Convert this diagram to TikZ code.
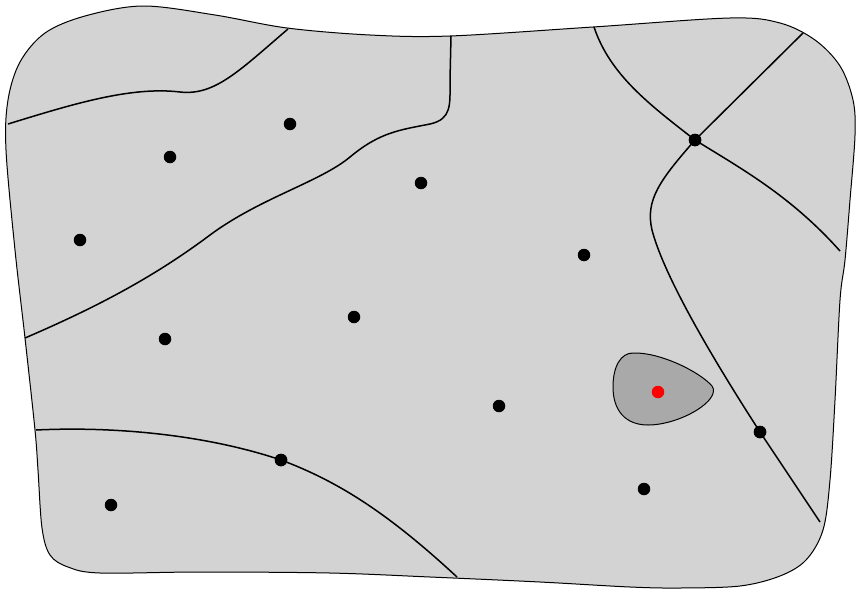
\documentclass[tikz,border=0pt]{standalone}
\definecolor{regiongray}{RGB}{211,211,211}
\definecolor{cellgray}{RGB}{169,169,169}
\begin{document}
\begin{tikzpicture}[x=1pt,y=-1pt,
  region/.style={fill=regiongray,draw=black,line width=1pt},
  cell/.style={fill=cellgray,draw=black,line width=1pt},
  border/.style={draw=black,line width=1.5pt},
  site/.style={circle,fill=black,inner sep=0pt,minimum size=12.5pt},
  hot/.style={circle,fill=red,inner sep=0pt,minimum size=12.5pt}]
\useasboundingbox (0,0) rectangle (858,589);
% outer domain
\path[region] plot[smooth cycle,tension=0.55] coordinates {
  (143,6) (215,15) (287,28) (370,35) (450,36) (593,27) (730,18) (780,23)
  (815,40) (840,66) (853,100) (855,135) (850,200) (845,260) (840,300)
  (835,400) (830,480) (823,530) (806,560) (780,576) (740,586) (680,588)
  (630,587) (540,582) (430,577) (330,573) (200,572) (100,573) (68,567)
  (50,555) (42,528) (38,470) (35,430) (25,338) (15,250) (6,150) (8,100)
  (20,62) (45,33) (85,16)};
% small shaded cell
\path[cell] (633,353) .. controls (660,352) and (700,372) .. (712,386)
  .. controls (722,400) and (680,425) .. (648,425)
  .. controls (625,425) and (613,410) .. (613,387)
  .. controls (613,366) and (621,353) .. (633,353) -- cycle;
% junctions and sites
\node[site] (j1) at (695,140) {};
\node[site] (j2) at (760,432) {};
\node[site] (j3) at (281,460) {};
\coordinate (a1) at (8,124);   \coordinate (a2) at (288,29);
\coordinate (b1) at (25,338);  \coordinate (b2) at (451,36);
\coordinate (c1) at (594,27);  \coordinate (c2) at (803,33);
\coordinate (c3) at (840,251); \coordinate (c4) at (820,522);
\coordinate (d1) at (36,430);  \coordinate (d2) at (457,577);
% boundaries between regions
\draw[border] (a1) .. controls (70,105) and (130,86) .. (180,92)
  .. controls (215,96) and (240,70) .. (a2);
\draw[border] (b1) .. controls (90,310) and (150,280) .. (210,235)
  .. controls (260,198) and (320,182) .. (350,157)
  .. controls (380,132) and (400,130) .. (430,124)
  .. controls (452,119) and (450,105) .. (450,80) -- (b2);
\draw[border] (c1) .. controls (610,75) and (650,105) .. (j1.center);
\draw[border] (j1.center) -- (c2);
\draw[border] (j1.center) .. controls (740,168) and (790,195) .. (c3);
\draw[border] (j1.center) .. controls (660,180) and (645,200) .. (652,230)
  .. controls (665,280) and (720,370) .. (j2.center) -- (c4);
\draw[border] (d1) .. controls (120,426) and (210,436) .. (j3.center)
  .. controls (340,482) and (390,515) .. (d2);
\node[site] at (j1) {};
\node[site] at (j2) {};
\node[site] at (j3) {};
\node[site] (s1) at (290,124) {};
\node[site] (s2) at (170,157) {};
\node[site] (s3) at (421,183) {};
\node[site] (s4) at (80,240) {};
\node[site] (s5) at (584,255) {};
\node[site] (s6) at (354,317) {};
\node[site] (s7) at (165,339) {};
\node[site] (s8) at (499,406) {};
\node[site] (s9) at (644,489) {};
\node[site] (s10) at (111,505) {};
\node[hot] (r1) at (658,392) {};
\end{tikzpicture}
\end{document}
